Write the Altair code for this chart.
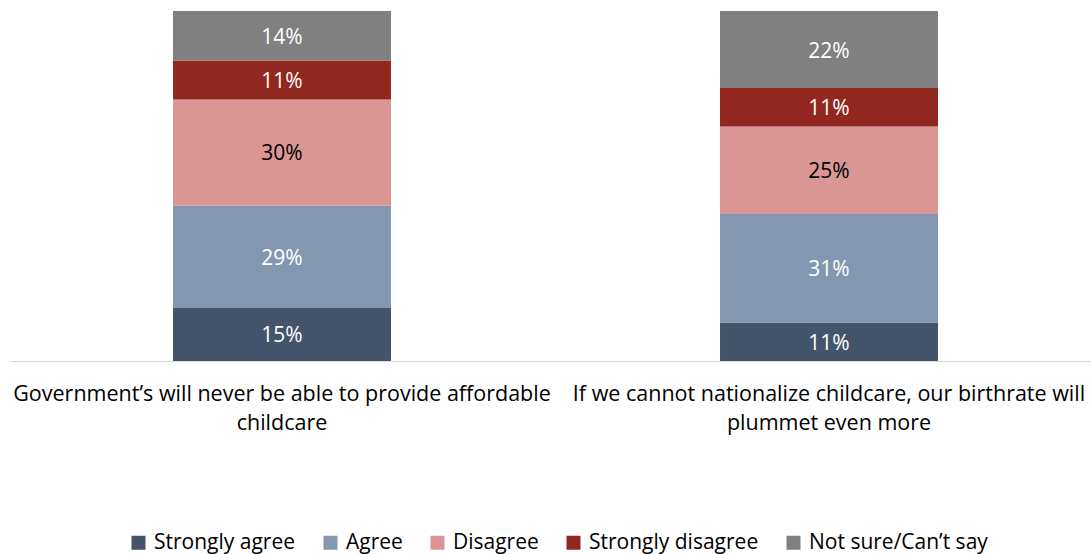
import altair as alt
import pandas as pd

categories = ["Government’s will never be able to provide affordable childcare",
              "If we cannot nationalize childcare, our birthrate will plummet even more"]
cat_lines = [["Government’s will never be able to provide affordable", "childcare"],
             ["If we cannot nationalize childcare, our birthrate will", "plummet even more"]]
series = ["Strongly agree", "Agree", "Disagree", "Strongly disagree", "Not sure/Can’t say"]
colors = ["#44546A", "#8497B0", "#DA9694", "#922720", "#808080"]
text_colors = ["white", "white", "black", "white", "white"]
values = {
    categories[0]: [15, 29, 30, 11, 14],
    categories[1]: [11, 31, 25, 11, 22],
}

rows = []
for c in categories:
    for i, s in enumerate(series):
        rows.append({"cat": c, "series": s, "idx": i, "value": values[c][i],
                     "label": f"{values[c][i]}%", "tcolor": text_colors[i]})
df = pd.DataFrame(rows)

label_expr = " : ".join(
    [f"datum.value == {c!r} ? {lines!r}" for c, lines in zip(categories, cat_lines)]
) + " : datum.value"

FONT = "Open Sans"

base = alt.Chart(df).transform_stack(
    stack="value", groupby=["cat"], as_=["y0", "y1"], offset="normalize",
    sort=[alt.SortField("idx", order="ascending")]
).transform_calculate(mid="(datum.y0 + datum.y1) / 2")

x_enc = alt.X("cat:N", sort=categories, title=None,
              scale=alt.Scale(paddingInner=0.6015, paddingOuter=0.298, range=[0, 1091]),
              axis=alt.Axis(labelExpr=label_expr, labelAngle=0, labelFontSize=21.5,
                            labelFont=FONT, labelColor="#000000", labelPadding=22,
                            labelLineHeight=29, ticks=False, domainColor="#D9D9D9",
                            domainWidth=1, labelLimit=0))

bars = base.mark_bar().encode(
    x=x_enc,
    y=alt.Y("y0:Q", scale=alt.Scale(domain=[0, 1]), axis=None),
    y2="y1:Q",
    color=alt.Color("series:N", sort=series,
                    scale=alt.Scale(domain=series, range=colors),
                    legend=alt.Legend(title=None, orient="none", direction="horizontal",
                                      legendX=118, legendY=521, columns=5,
                                      symbolType="square", symbolSize=196,
                                      symbolStrokeWidth=0, labelFontSize=21,
                                      labelFont=FONT, labelColor="#000000",
                                      labelOffset=5, columnPadding=24, labelLimit=0)),
)

texts = base.mark_text(fontSize=21, font=FONT, dy=2).encode(
    x=alt.X("cat:N", sort=categories),
    y=alt.Y("mid:Q"),
    text="label:N",
    color=alt.Color("tcolor:N", scale=None),
)

chart = alt.layer(bars, texts).properties(
    width=1080, height=350,
    padding={"left": 10, "top": 11, "right": 1, "bottom": 193},
    autosize=alt.AutoSizeParams(type="none"),
).configure(background="white").configure_view(stroke=None)

chart.save("out.html", embed_options={"renderer": "svg", "actions": False})
